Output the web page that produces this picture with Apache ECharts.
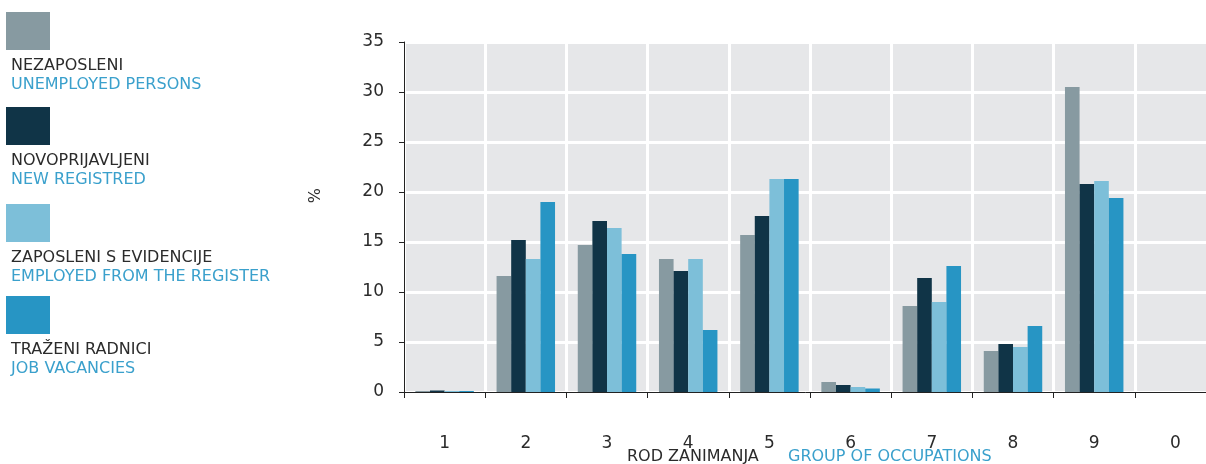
<!DOCTYPE html>
<html>
<head>
<meta charset="utf-8">
<script src="https://cdn.jsdelivr.net/npm/echarts@6/dist/echarts.min.js"></script>
<style>
    html, body {margin: 0; padding: 0; background: #fff;}
    #chart {width: 1206px; height: 464px;}
</style>
</head>
<body>
<div id="chart"></div>
<script>
var categories = ['1', '2', '3', '4', '5', '6', '7', '8', '9', '0'];
var namesHr = ['NEZAPOSLENI', 'NOVOPRIJAVLJENI', 'ZAPOSLENI S EVIDENCIJE', 'TRAŽENI RADNICI'];
var namesEn = ['UNEMPLOYED PERSONS', 'NEW REGISTRED', 'EMPLOYED FROM THE REGISTER', 'JOB VACANCIES'];
var unemployed = [0.1, 11.6, 14.7, 13.3, 15.7, 1.0, 8.6, 4.1, 30.5, 0];
var newRegistred = [0.15, 15.2, 17.1, 12.1, 17.6, 0.7, 11.4, 4.8, 20.8, 0];
var employed = [0.1, 13.3, 16.4, 13.3, 21.3, 0.5, 9.0, 4.5, 21.1, 0];
var vacancies = [0.1, 19.0, 13.8, 6.2, 21.3, 0.35, 12.6, 6.6, 19.4, 0];
var yTicks = [0, 5, 10, 15, 20, 25, 30, 35];

var colors = ['#879aa1', '#103447', '#7dbfd9', '#2795c4'];
var blueText = '#3aa0cc';
var darkText = '#2b2b2b';
var font = 'DejaVu Sans';

var seriesData = [unemployed, newRegistred, employed, vacancies];

// legend drawn as graphic blocks: square, then two text lines below
var legendTops = [12, 107, 204, 296];
var legendGraphic = [];
for (var i = 0; i < namesHr.length; i++) {
    var t = legendTops[i];
    legendGraphic.push({type: 'rect', left: 6, top: t, shape: {width: 44, height: 38}, style: {fill: colors[i]}});
    legendGraphic.push({type: 'text', left: 11, top: t + 46, style: {text: namesHr[i], fill: darkText, font: '16px ' + font}});
    legendGraphic.push({type: 'text', left: 11, top: t + 65, style: {text: namesEn[i], fill: blueText, font: '16px ' + font}});
}

var option = {
    animation: false,
    color: colors,
    grid: {
        left: 404, top: 42, right: -10, bottom: 72,
        outerBoundsMode: 'none', containLabel: false,
        show: true, backgroundColor: '#e6e7e9', borderWidth: 0
    },
    xAxis: {
        type: 'category',
        data: categories,
        axisLine: {lineStyle: {color: '#222', width: 1}},
        axisTick: {show: true, length: 6, lineStyle: {color: '#222'}},
        axisLabel: {color: darkText, fontSize: 17, fontFamily: font, margin: 43},
        splitLine: {show: true, lineStyle: {color: '#ffffff', width: 3}}
    },
    yAxis: {
        type: 'value',
        min: yTicks[0],
        max: yTicks[yTicks.length - 1],
        interval: 5,
        axisLine: {show: true, lineStyle: {color: '#222', width: 1}},
        axisTick: {show: true, length: 5, lineStyle: {color: '#222'}},
        axisLabel: {color: darkText, fontSize: 17, fontFamily: font, margin: 20},
        splitLine: {show: true, lineStyle: {color: '#ffffff', width: 3}}
    },
    graphic: legendGraphic.concat([
        {type: 'text', left: 308, top: 188, rotation: Math.PI / 2,
            style: {text: '%', fill: darkText, font: '16px ' + font}},
        {type: 'text', left: 627, top: 449,
            style: {text: 'ROD ZANIMANJA', fill: darkText, font: '16px ' + font}},
        {type: 'text', left: 788, top: 449,
            style: {text: 'GROUP OF OCCUPATIONS', fill: blueText, font: '16px ' + font}}
    ]),
    series: seriesData.map(function (d, i) {
        return {
            name: namesHr[i],
            type: 'bar',
            data: d,
            barGap: '0%',
            barCategoryGap: '28%',
            itemStyle: {color: colors[i]}
        };
    })
};

var chart = echarts.init(document.getElementById('chart'));
chart.setOption(option);
</script>
</body>
</html>
